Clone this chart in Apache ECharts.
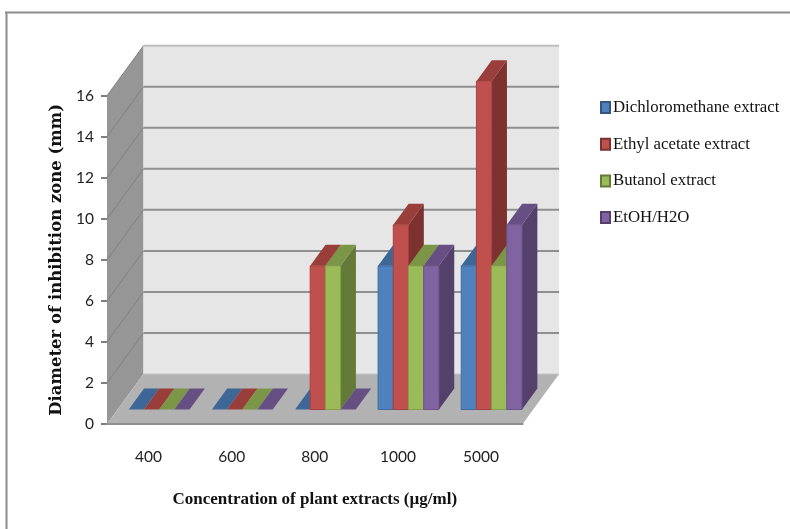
<!DOCTYPE html>
<html>
<head>
<meta charset="utf-8">
<style>html,body{margin:0;padding:0;background:#fff}#chart{width:790px;height:529px}</style>
<script src="https://cdn.jsdelivr.net/npm/echarts@6/dist/echarts.min.js"></script>
</head>
<body>
<div id="chart"></div>
<script>
const categories = ['400', '600', '800', '1000', '5000'];
const dichloromethane = [0, 0, 0, 7, 7];
const ethylAcetate = [0, 0, 7, 9, 16];
const butanol = [0, 0, 7, 7, 7];
const etohWater = [0, 0, 0, 7, 9];
const yTicks = [0, 2, 4, 6, 8, 10, 12, 14, 16];

const seriesNames = ['Dichloromethane extract', 'Ethyl acetate extract', 'Butanol extract', 'EtOH/H2O'];
const seriesValues = [dichloromethane, ethylAcetate, butanol, etohWater];
const frontColors = ['#4F81BD', '#C0504D', '#9BBB59', '#8064A2'];
const topColors = ['#3D6796', '#9A3E3B', '#7B9646', '#664F83'];
const sideColors = ['#345680', '#7E3230', '#647A38', '#54406B'];
const edgeColors = ['#3F6B9E', '#A54240', '#84A04A', '#6C5489'];

// Oblique projection of the chart box
const DEPTH_X = 36.5, DEPTH_Y = 50;
const BAR_NEAR = 0.29, BAR_DEPTH = 0.42;
const BAR_WIDTH = 15.2;

function poly(points, fill, stroke) {
  return {
    type: 'polygon',
    shape: { points },
    style: { fill, stroke: stroke || fill, lineWidth: stroke ? 1 : 0 }
  };
}
function line(x1, y1, x2, y2, stroke, lineWidth) {
  return { type: 'line', shape: { x1, y1, x2, y2 }, style: { stroke, lineWidth } };
}

// Left wall, back wall, floor and gridlines
function renderBox(params, api) {
  const r = params.coordSys;
  const l = r.x, rt = r.x + r.width, b = r.y + r.height, t = r.y;
  const children = [
    poly([[l, b], [l + DEPTH_X, b - DEPTH_Y], [l + DEPTH_X, t - DEPTH_Y], [l, t]], '#969696'),
    poly([[l + DEPTH_X, b - DEPTH_Y], [rt + DEPTH_X, b - DEPTH_Y], [rt + DEPTH_X, t - DEPTH_Y], [l + DEPTH_X, t - DEPTH_Y]], '#E6E6E6'),
    poly([[l, b], [rt, b], [rt + DEPTH_X, b - DEPTH_Y], [l + DEPTH_X, b - DEPTH_Y]], '#B2B2B2')
  ];
  yTicks.forEach(v => {
    const y = api.coord([0, v])[1];
    if (v > 0) {
      children.push(line(l, y, l + DEPTH_X, y - DEPTH_Y, '#808080', 1));
      children.push(line(l + DEPTH_X, y - DEPTH_Y, rt + DEPTH_X, y - DEPTH_Y, v === 16 ? '#BDBDBD' : '#8F8F8F', 2));
    } else {
      children.push(line(l + DEPTH_X, y - DEPTH_Y, rt + DEPTH_X, y - DEPTH_Y, '#C8C8C8', 1));
    }
  });
  return { type: 'group', children };
}

// One oblique bar: front face, top and right side
function renderBar(seriesIndex) {
  return function (params, api) {
    const catIndex = api.value(0);
    const top = api.coord([catIndex, api.value(1)]);
    const base = api.coord([catIndex, 0]);
    const x0 = top[0] + (seriesIndex - 2) * BAR_WIDTH + DEPTH_X * BAR_NEAR;
    const x1 = x0 + BAR_WIDTH;
    const yt = top[1] - DEPTH_Y * BAR_NEAR;
    const yb = base[1] - DEPTH_Y * BAR_NEAR;
    const dx = DEPTH_X * BAR_DEPTH, dy = DEPTH_Y * BAR_DEPTH;
    return {
      type: 'group',
      children: [
        poly([[x1, yt], [x1 + dx, yt - dy], [x1 + dx, yb - dy], [x1, yb]], sideColors[seriesIndex]),
        poly([[x0, yt], [x1, yt], [x1 + dx, yt - dy], [x0 + dx, yt - dy]], topColors[seriesIndex]),
        {
          type: 'rect',
          shape: { x: x0, y: yt, width: BAR_WIDTH, height: yb - yt },
          style: { fill: frontColors[seriesIndex], stroke: edgeColors[seriesIndex], lineWidth: yb > yt ? 1 : 0 }
        }
      ]
    };
  };
}

const barSeries = seriesNames.map((name, i) => ({
  type: 'custom',
  name,
  z: 3 + i,
  silent: true,
  animation: false,
  clip: false,
  renderItem: renderBar(i),
  encode: { x: 0, y: 1 },
  itemStyle: { color: frontColors[i], borderColor: sideColors[i], borderWidth: 1 },
  data: categories.map((c, k) => [k, seriesValues[i][k]])
}));

const chart = echarts.init(document.getElementById('chart'), null, { renderer: 'canvas' });
chart.setOption({
  animation: false,
  backgroundColor: '#fff',
  graphic: [
    { type: 'line', z: -10, shape: { x1: 5, y1: 12.5, x2: 790, y2: 12.5 }, style: { stroke: '#8C8C8C', lineWidth: 2 } },
    { type: 'line', z: -10, shape: { x1: 6.5, y1: 12, x2: 6.5, y2: 529 }, style: { stroke: '#8C8C8C', lineWidth: 2 } }
  ],
  grid: { left: 107, top: 95.7, width: 415.6, height: 328.3, containLabel: false },
  legend: {
    orient: 'vertical',
    left: 595,
    top: 94,
    itemWidth: 9,
    itemHeight: 11,
    itemGap: 19.7,
    icon: 'rect',
    selectedMode: false,
    data: seriesNames,
    textStyle: {
      fontFamily: '"Liberation Serif", serif',
      fontSize: 16.8,
      color: '#111',
      padding: [0, 0, 0, -2]
    }
  },
  xAxis: {
    type: 'category',
    data: categories,
    name: 'Concentration of plant extracts (µg/ml)',
    nameLocation: 'middle',
    nameGap: 67,
    nameTextStyle: { fontFamily: '"Liberation Serif", serif', fontWeight: 'bold', fontSize: 17, color: '#111' },
    axisLine: { show: true, lineStyle: { color: '#8F8F8F', width: 2 } },
    axisTick: { show: false },
    axisLabel: { fontFamily: 'Lato, sans-serif', fontSize: 15.5, color: '#222', margin: 25 },
    z: 2
  },
  yAxis: {
    type: 'value',
    min: 0,
    max: 16,
    interval: 2,
    name: 'Diameter of inhibition zone (mm)',
    nameLocation: 'middle',
    nameGap: 41,
    nameTextStyle: { fontFamily: '"DejaVu Serif", serif', fontWeight: 'bold', fontSize: 16.5, color: '#111' },
    axisLine: { show: true, lineStyle: { color: '#8F8F8F', width: 1 } },
    axisTick: { show: true, length: 6, lineStyle: { color: '#7F7F7F', width: 2 } },
    axisLabel: { fontFamily: 'Lato, sans-serif', fontSize: 15.5, color: '#222', margin: 13 },
    splitLine: { show: false }
  },
  series: [{
    type: 'custom',
    z: 1,
    silent: true,
    clip: false,
    renderItem: renderBox,
    encode: { x: 0, y: 1 },
    data: [[0, 0]],
    legendHoverLink: false
  }].concat(barSeries)
});
</script>
</body>
</html>
